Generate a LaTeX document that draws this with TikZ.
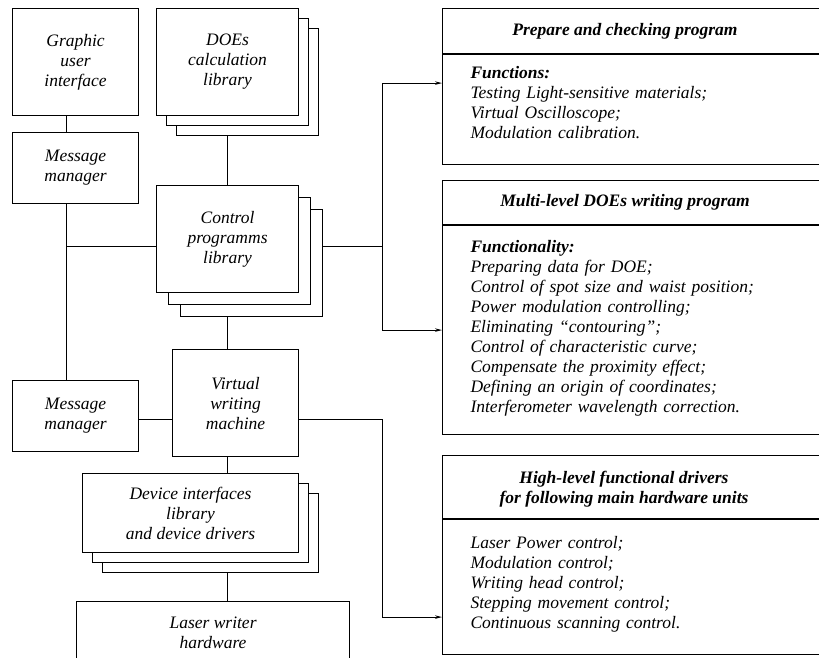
\documentclass[tikz,border=0pt]{standalone}
\usepackage{fontspec}
\setmainfont{Liberation Serif}
\usetikzlibrary{arrows.meta}
\usetikzlibrary{shadows}
\usetikzlibrary{backgrounds}

\tikzset{
  block/.style={draw, fill=white, line width=1.1pt, inner sep=0pt,
    anchor=north west, align=center},
  stack/.style 2 args={copy shadow={shadow xshift=#2, shadow yshift=-#2},
    copy shadow={shadow xshift=#1, shadow yshift=-#1}},
  panel/.style={draw, line width=1.1pt, anchor=north west, minimum width=440pt},
  panel text/.style={panel, text width=384pt, align=left, inner xsep=28pt,
    inner ysep=0pt},
  link/.style={line width=1pt},
  feed/.style={link, -{Stealth[length=7pt, width=3.5pt]}}
}

\begin{document}
\begin{tikzpicture}[x=1pt, y=-1pt, font=\fontsize{17.5}{20}\selectfont\itshape]%

\path [use as bounding box, clip] (0,0) rectangle (819,657);

% left column
\node [block, minimum width=126pt, minimum height=107pt] (gui) at (12,8)
  {Graphic\\ user\\ interface};
\node [block, minimum width=126pt, minimum height=71pt] (msg-1) at (12,132)
  {Message\\ manager};
\node [block, minimum width=126pt, minimum height=71pt] (msg-2) at (12,380)
  {Message\\ manager};

% middle column
\node [block, stack={10pt}{20pt}, minimum width=142pt, minimum height=107pt]
  (doe-lib) at (156,8) {DOEs\\ calculation\\ library};
\node [block, stack={12pt}{24pt}, minimum width=142pt, minimum height=107pt]
  (ctrl-lib) at (156,185) {Control\\ programms\\ library};
\node [block, minimum width=126pt, minimum height=107pt] (vwm) at (172,349)
  {Virtual\\ writing\\ machine};
\node [block, stack={10pt}{20pt}, minimum width=216pt, minimum height=79pt]
  (dev-lib) at (82,473) {Device interfaces\\ library\\ and device drivers};
\node [block, minimum width=273pt, minimum height=62pt] (laser) at (76,601)
  {Laser writer\\ hardware};

% right column
\node [panel, minimum height=45pt] (prep-head) at (442,8) {};
\node [panel text, text height=24pt, text depth=86pt] (prep-body)
  at (prep-head.south west)
  {\textbf{Functions:}\\
   Testing Light-sensitive materials;\\
   Virtual Oscilloscope;\\
   Modulation calibration.};
\node (prep-title) at ([xshift=183pt]prep-head.west)
  {\textbf{Prepare and checking program}};

\node [panel, minimum height=44pt] (doew-head) at (442,180) {};
\node [panel text, text height=27pt, text depth=182pt] (doew-body)
  at (doew-head.south west)
  {\textbf{Functionality:}\\
   Preparing data for DOE;\\
   Control of spot size and waist position;\\
   Power modulation controlling;\\
   Eliminating “contouring”;\\
   Control of characteristic curve;\\
   Compensate the proximity effect;\\
   Defining an origin of coordinates;\\
   Interferometer wavelength correction.};
\node (doew-title) at ([xshift=183pt]doew-head.west)
  {\textbf{Multi-level DOEs writing program}};

\node [panel, minimum height=63pt] (drv-head) at (442,455) {};
\node [panel text, text height=29pt, text depth=106pt] (drv-body)
  at (drv-head.south west)
  {Laser Power control;\\
   Modulation control;\\
   Writing head control;\\
   Stepping movement control;\\
   Continuous scanning control.};
\node [align=center] (drv-title) at ([xshift=182pt, yshift=-2pt]drv-head.west)
  {\textbf{High-level functional drivers}\\ \textbf{for following main hardware units}};

% connectors
\coordinate (left-bus) at (66,246);
\coordinate (right-bus) at (382,246);
\coordinate (vwm-bus) at (382,419);

\begin{scope}[on background layer]
  \draw [link] (gui -| left-bus) -- (msg-2 -| left-bus);
  \draw [link] (left-bus) -- (right-bus);
  \draw [link] (doe-lib) -- (doe-lib |- laser.north);
  \draw [link] (msg-2.east |- vwm-bus) -- (vwm-bus);
  \draw [feed] (right-bus) |- ([yshift=-29pt]prep-body.north west);
  \draw [feed] (right-bus) |- ([yshift=-105pt]doew-body.north west);
  \draw [feed] (vwm-bus) |- ([yshift=-98pt]drv-body.north west);
\end{scope}

\end{tikzpicture}
\end{document}
